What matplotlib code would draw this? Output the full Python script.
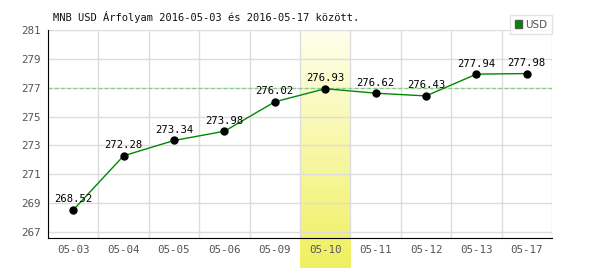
import numpy as np
import matplotlib
matplotlib.use("Agg")
import matplotlib.pyplot as plt
from matplotlib.patches import Rectangle

dates = ["05-03", "05-04", "05-05", "05-06", "05-09", "05-10", "05-11", "05-12", "05-13", "05-17"]
values = [268.52, 272.28, 273.34, 273.98, 276.02, 276.93, 276.62, 276.43, 277.94, 277.98]
yticks = [267, 269, 271, 273, 275, 277, 279, 281]
ref_level = 277
highlight = "05-10"
title = "MNB USD Árfolyam 2016-05-03 és 2016-05-17 között."

plt.rcParams['font.family'] = ['DejaVu Sans Mono']
fig = plt.figure(figsize=(6, 2.7), dpi=100)
L, R, B, T = 48/600, 552/600, (270-238)/270, (270-30)/270
ax = fig.add_axes([L, B, R-L, T-B])
n = len(dates)
x = np.arange(n)
ax.set_xlim(-0.5, n-0.5)
ax.set_ylim(266.58, 281)

# highlight band with gradient (extends below axis)
hi = dates.index(highlight)
bx0 = L + (hi) / n * (R-L)
bw = (R-L) / n
bax = fig.add_axes([bx0, (270-268)/270, bw, (268-30)/270], zorder=-1)
grad = np.linspace(1, 0, 256).reshape(-1, 1)
top_c = np.array([1.0, 1.0, 0.93])
bot_c = np.array([0.94, 0.94, 0.38])
img = top_c[None, None, :] * (1-grad[..., None]) + bot_c[None, None, :] * grad[..., None]
img = img[::-1]
bax.imshow(img, aspect='auto', extent=[0, 1, 0, 1], origin='upper')
bax.set_axis_off()
ax.set_zorder(1)
ax.patch.set_alpha(0)

ax.set_yticks(yticks)
ax.set_xticks(x)
ax.set_xticklabels(dates)
ax.set_xticks(np.arange(n+1) - 0.5, minor=True)
ax.grid(True, which='minor', axis='x', color='#dddddd', lw=1)
ax.grid(True, which='major', axis='y', color='#dddddd', lw=1)
ax.tick_params(axis='both', which='both', length=0, colors='#555555', labelsize=7.8)
ax.tick_params(axis='x', pad=5)
ax.tick_params(axis='y', pad=5)
for s in ['top', 'right']:
    ax.spines[s].set_visible(False)
ax.spines['left'].set_color('black')
ax.spines['bottom'].set_color('black')
ax.set_axisbelow(True)

ax.axhline(ref_level, color='#88cc88', lw=0.9, ls=(0, (3, 2)), zorder=2)
ax.plot(x, values, color='#008800', lw=1, zorder=3)
ax.plot(x, values, 'o', color='black', ms=5, zorder=4)
for xi, v in zip(x, values):
    ax.annotate(f"{v:.2f}", (xi, v), xytext=(0, 4), textcoords='offset points',
                ha='center', va='bottom', fontsize=7.6, color='black', zorder=5)

fig.text(53/600, 1-17/270, title, fontsize=7.5, color='#111111', va='center', ha='left')

# legend
leg = ax.legend(handles=[Rectangle((0, 0), 1, 1, facecolor='#008800', edgecolor='#555555')],
                labels=['USD'], loc='upper right', bbox_to_anchor=(1.0, 1.0 + 15/208),
                frameon=True, fancybox=False, fontsize=7.5,
                prop={'family': 'DejaVu Sans', 'size': 7.5},
                handlelength=0.7, handleheight=0.7,
                handletextpad=0.3, borderpad=0.45, borderaxespad=0)
leg.get_frame().set_edgecolor('#dddddd')
leg.get_frame().set_linewidth(1)
for t in leg.get_texts():
    t.set_color('#555555')

fig.savefig("out.png", dpi=100)
